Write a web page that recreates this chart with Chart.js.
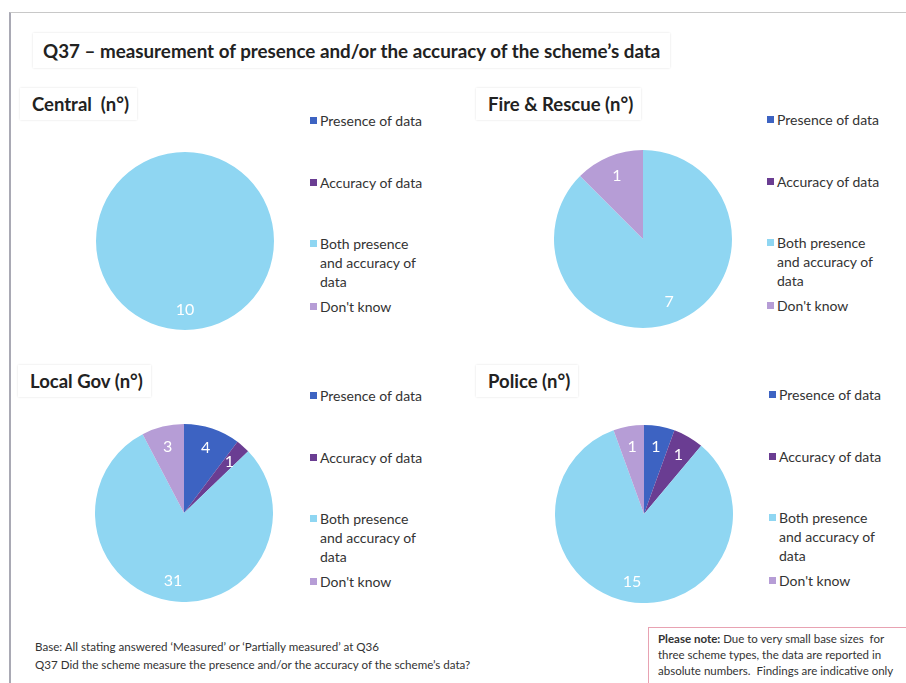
<!DOCTYPE html>
<html>
<head>
<meta charset="utf-8">
<script src="https://cdn.jsdelivr.net/npm/chart.js@4/dist/chart.umd.min.js"></script>
<style>
  html, body { margin: 0; padding: 0; background: #fff; }
  body { width: 906px; height: 683px; position: relative; overflow: hidden; font-family: Lato, "Open Sans", sans-serif; color: #333; }
  .frame { position: absolute; left: 9px; top: 12px; width: 910px; height: 700px; border-left: 2px solid #a9a9b4; border-top: 1px solid #c8c8c8; }
  .box { position: absolute; background: #fff; box-shadow: 0 0 2px rgba(0,0,0,0.12); white-space: pre; }
  .main-title { left: 33px; top: 33px; height: 35px; line-height: 35px; padding: 0 10px; font-weight: bold; font-size: 18.8px; color: #222; }
  .panel-title { height: 32px; line-height: 32px; padding: 0 8px 0 12px; font-weight: bold; font-size: 18.5px; color: #222; }
  canvas.pie { position: absolute; }
  .leg { position: absolute; font-size: 14px; line-height: 19px; color: #333; white-space: nowrap; }
  .leg i { position: absolute; left: -10px; top: 6px; width: 7px; height: 7px; }
  .foot { position: absolute; left: 35px; font-size: 11.6px; color: #333; white-space: nowrap; }
  .note { position: absolute; left: 648px; top: 627px; width: 262px; height: 60px; border: 1px solid #e8a2b2; box-sizing: border-box; padding: 3px 0 0 9px; font-size: 11.5px; line-height: 16px; color: #333; white-space: nowrap; }
</style>
</head>
<body>
<div class="frame"></div>
<div class="box main-title">Q37 – measurement of presence and/or the accuracy of the scheme’s data</div>

<div class="foot" style="top:640px">Base: All stating answered ‘Measured’ or ‘Partially measured’ at Q36</div>
<div class="foot" style="top:658px">Q37 Did the scheme measure the presence and/or the accuracy of the scheme’s data?</div>
<div class="note"><b>Please note:</b> Due to very small base sizes &nbsp;for<br>three scheme types, the data are reported in<br>absolute numbers. &nbsp;Findings are indicative only</div>

<script>
// Categories (multi-line labels as arrays)
const categories = ['Presence of data', 'Accuracy of data', ['Both presence', 'and accuracy of', 'data'], "Don't know"];

// Series values per scheme type (n)
const centralValues = [0, 0, 10, 0];
const fireValues = [0, 0, 7, 1];
const localGovValues = [4, 1, 31, 3];
const policeValues = [1, 1, 15, 1];

const panelTitles = ['Central  (n°)', 'Fire & Rescue (n°)', 'Local Gov (n°)', 'Police (n°)'];

const sliceColors = ['#3d63c2', '#6a3d92', '#8fd6f2', '#b69dd6'];

// Layout of the four panels
const panels = [
  { values: centralValues,  title: panelTitles[0], tx: 20,  ty: 88,  cx: 185, cy: 241, lx: 320, ly: 111 },
  { values: fireValues,     title: panelTitles[1], tx: 476, ty: 88,  cx: 643, cy: 239, lx: 777, ly: 110 },
  { values: localGovValues, title: panelTitles[2], tx: 18,  ty: 365, cx: 184, cy: 513, lx: 320, ly: 386 },
  { values: policeValues,   title: panelTitles[3], tx: 476, ty: 365, cx: 644, cy: 514, lx: 779, ly: 385 }
];
const legendOffsets = [0, 62, 123, 186];
const R = 89;

// Value labels inside slices
const sliceLabels = {
  id: 'sliceLabels',
  afterDatasetsDraw(chart) {
    const ctx = chart.ctx;
    const meta = chart.getDatasetMeta(0);
    const data = chart.data.datasets[0].data;
    ctx.save();
    ctx.fillStyle = '#fff';
    ctx.font = '16px Lato, sans-serif';
    ctx.textAlign = 'center';
    ctx.textBaseline = 'middle';
    meta.data.forEach((arc, i) => {
      if (!data[i]) return;
      const p = arc.getProps(['x', 'y', 'startAngle', 'endAngle', 'outerRadius'], true);
      const mid = (p.startAngle + p.endAngle) / 2;
      const r = p.outerRadius * 0.77;
      ctx.fillText(String(data[i]), p.x + Math.cos(mid) * r, p.y + Math.sin(mid) * r);
    });
    ctx.restore();
  }
};

panels.forEach(p => {
  // title box
  const t = document.createElement('div');
  t.className = 'box panel-title';
  t.style.left = p.tx + 'px';
  t.style.top = p.ty + 'px';
  t.textContent = p.title;
  document.body.appendChild(t);

  // legend
  categories.forEach((c, i) => {
    const d = document.createElement('div');
    d.className = 'leg';
    d.style.left = p.lx + 'px';
    d.style.top = (p.ly + legendOffsets[i]) + 'px';
    const lines = Array.isArray(c) ? c : [c];
    d.innerHTML = '<i style="background:' + sliceColors[i] + '"></i>' + lines.join('<br>');
    document.body.appendChild(d);
  });

  // pie
  const cv = document.createElement('canvas');
  cv.className = 'pie';
  cv.width = R * 2;
  cv.height = R * 2;
  cv.style.left = (p.cx - R) + 'px';
  cv.style.top = (p.cy - R) + 'px';
  document.body.appendChild(cv);

  new Chart(cv.getContext('2d'), {
    type: 'pie',
    data: {
      labels: categories.map(c => Array.isArray(c) ? c.join(' ') : c),
      datasets: [{
        data: p.values,
        backgroundColor: sliceColors,
        borderWidth: 0
      }]
    },
    options: {
      responsive: false,
      animation: false,
      layout: { padding: 0 },
      plugins: {
        legend: { display: false },
        tooltip: { enabled: false }
      }
    },
    plugins: [sliceLabels]
  });
});
</script>
</body>
</html>
